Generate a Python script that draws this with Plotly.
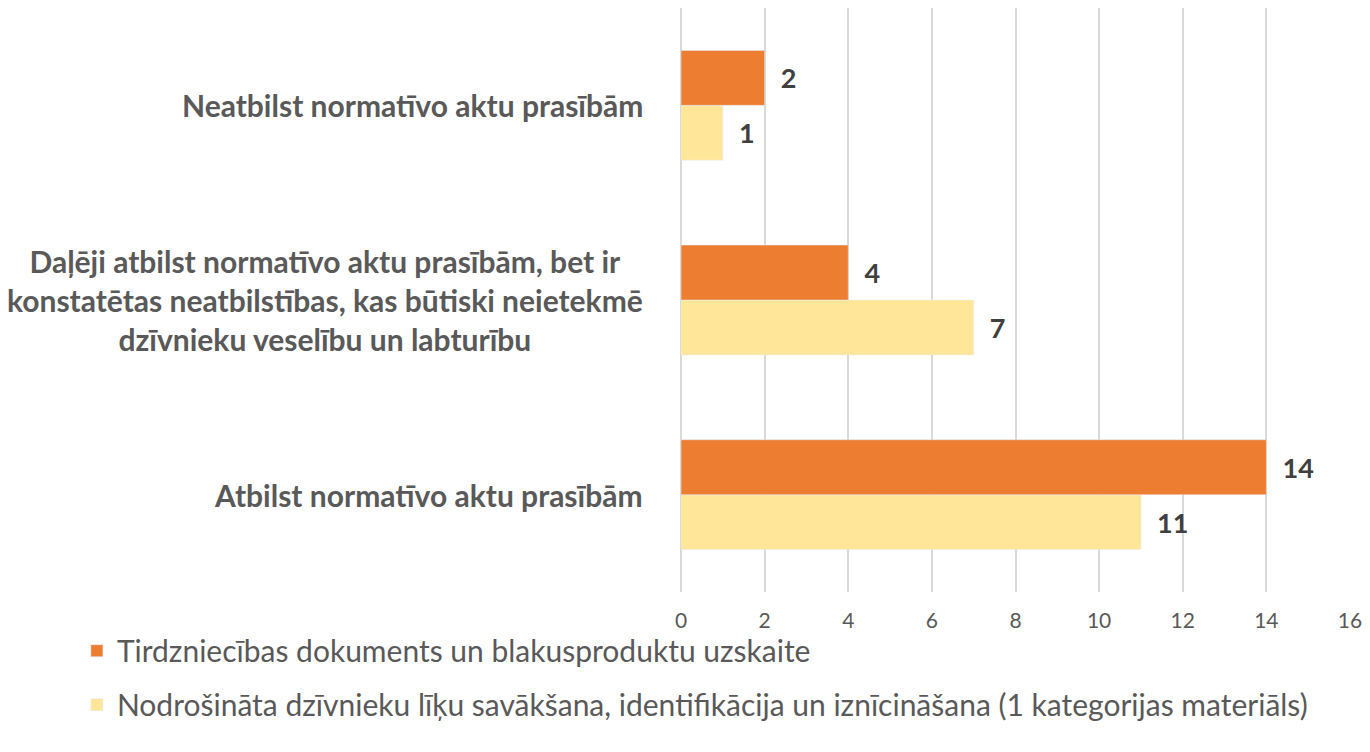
import plotly.graph_objects as go

categories = [
    "Atbilst normatīvo aktu prasībām",
    "Daļēji atbilst normatīvo aktu prasībām, bet ir<br>konstatētas neatbilstības, kas būtiski neietekmē<br>dzīvnieku veselību un labturību",
    "Neatbilst normatīvo aktu prasībām",
]
series_names = [
    "Tirdzniecības dokuments un blakusproduktu uzskaite",
    "Nodrošināta dzīvnieku līķu savākšana, identifikācija un iznīcināšana (1 kategorijas materiāls)",
]
orange_values = [14, 4, 2]
yellow_values = [11, 7, 1]
tick_values = [0, 2, 4, 6, 8, 10, 12, 14, 16]

FONT = "Lato"
GREY = "#595959"

fig = go.Figure()
fig.add_trace(go.Bar(
    y=categories, x=yellow_values, orientation="h", name=series_names[1],
    marker=dict(color="#FFE699"), legendrank=2, legendgroup="b",
    texttemplate="\u00a0\u00a0%{x}", textposition="outside", cliponaxis=False,
    textfont=dict(family=FONT, size=27, color="#404040", weight="bold"),
))
fig.add_trace(go.Bar(
    y=categories, x=orange_values, orientation="h", name=series_names[0],
    marker=dict(color="#ED7D31"), legendrank=1, legendgroup="a",
    texttemplate="\u00a0\u00a0%{x}", textposition="outside", cliponaxis=False,
    textfont=dict(family=FONT, size=27, color="#404040", weight="bold"),
))

for c in categories:
    fig.add_annotation(
        x=0, xref="paper", y=c, yref="y", text=c, showarrow=False,
        xanchor="right", xshift=-36, align="center",
        font=dict(family=FONT, size=30, color=GREY, weight="bold"),
    )

fig.update_layout(
    width=1370, height=752,
    margin=dict(l=681, r=18, t=8, b=160),
    paper_bgcolor="white", plot_bgcolor="white",
    barmode="group", bargap=0.436, bargroupgap=0,
    font=dict(family=FONT, color=GREY),
    xaxis=dict(
        range=[0, 16], tickvals=tick_values, showgrid=True, gridcolor="#D9D9D9",
        gridwidth=2, zeroline=True, zerolinecolor="#D9D9D9", zerolinewidth=2,
        showline=False, tickfont=dict(family=FONT, size=21, color=GREY),
        ticks="", ticklabelstandoff=14,
    ),
    yaxis=dict(showticklabels=False, showgrid=False, zeroline=False, range=[-0.5, 2.5]),
    legend=dict(
        x=-0.903, xanchor="left", y=-0.056, yanchor="top",
        bgcolor="rgba(0,0,0,0)",
        font=dict(family=FONT, size=30, color=GREY),
        tracegroupgap=12, itemwidth=30,
    ),
    showlegend=True,
)

fig.write_html("out.html", config={"displayModeBar": False},
               post_script="document.body.style.margin='0';")
